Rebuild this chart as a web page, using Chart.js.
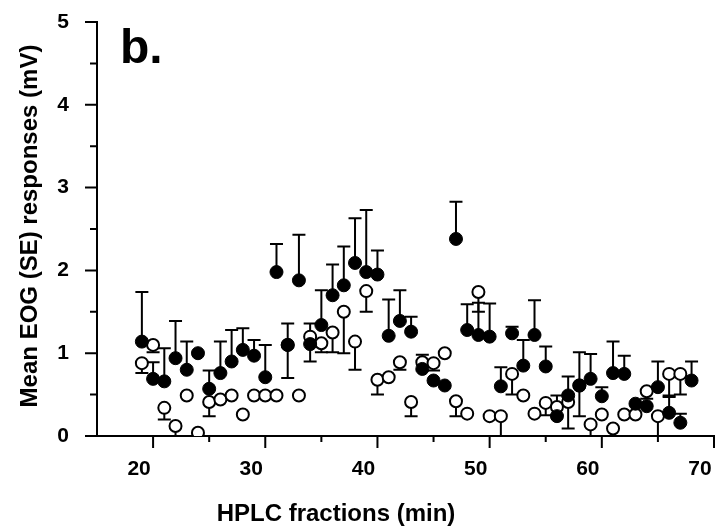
<!DOCTYPE html>
<html>
<head>
<meta charset="utf-8">
<script src="https://cdn.jsdelivr.net/npm/chart.js@4"></script>
<style>
  html, body { margin: 0; padding: 0; background: #fff; }
  #wrap { width: 722px; height: 527px; }
</style>
</head>
<body>
<div id="wrap"><canvas id="chart" width="722" height="527"></canvas></div>
<script>
// HPLC fraction (min) for each point
const fractions = [19, 20, 21, 22, 23, 24, 25, 26, 27, 28, 29, 30, 31, 32, 33, 34, 35, 36, 37, 38,
                   39, 40, 41, 42, 43, 44, 45, 46, 47, 48, 49, 50, 51, 52, 53, 54, 55, 56, 57, 58,
                   59, 60, 61, 62, 63, 64, 65, 66, 67, 68];

// filled circles, error bars drawn upward
const filledMean = [1.14, 0.69, 0.66, 0.94, 0.80, 1.00, 0.57, 0.76, 0.90, 1.04, 0.97, 0.71, 1.98, 1.10, 1.88, 1.11, 1.34, 1.70, 1.82, 2.09,
                    1.98, 1.95, 1.21, 1.39, 1.26, 0.81, 0.67, 0.61, 2.38, 1.28, 1.22, 1.20, 0.60, 1.24, 0.85, 1.22, 0.84, 0.24, 0.49, 0.61,
                    0.69, 0.48, 0.76, 0.75, 0.39, 0.36, 0.59, 0.28, 0.16, 0.67];
const filledSE = [0.60, 0.20, 0.40, 0.45, 0.34, 0, 0.22, 0.38, 0.38, 0.26, 0.19, 0.39, 0.34, 0.26, 0.55, 0.25, 0.42, 0.37, 0.47, 0.54,
                  0.75, 0.29, 0.44, 0.37, 0.18, 0.17, 0, 0, 0.45, 0.31, 0.39, 0.40, 0.23, 0.08, 0.31, 0.42, 0.24, 0.25, 0.23, 0.40,
                  0.30, 0.11, 0.38, 0.22, 0, 0, 0.31, 0.19, 0.11, 0.23];

// open circles, error bars drawn downward
const openMean = [0.88, 1.10, 0.34, 0.12, 0.49, 0.04, 0.41, 0.44, 0.49, 0.26, 0.49, 0.49, 0.49, 1.10, 0.49, 1.20, 1.12, 1.25, 1.50, 1.14,
                  1.75, 0.68, 0.71, 0.89, 0.41, 0.89, 0.88, 1.00, 0.42, 0.27, 1.74, 0.24, 0.24, 0.75, 0.49, 0.27, 0.40, 0.35, 0.41, 0.61,
                  0.14, 0.26, 0.09, 0.26, 0.26, 0.54, 0.24, 0.75, 0.75, null];
const openSE = [0.12, 0.09, 0.14, 0.12, 0, 0, 0.17, 0, 0, 0, 0, 0, 0, 0.40, 0, 0.30, 0.11, 0.24, 0.50, 0.34,
                0.25, 0.18, 0, 0.09, 0.17, 0.10, 0.09, 0, 0.18, 0, 0.24, 0, 0.24, 0.25, 0, 0, 0.15, 0.10, 0.32, 0.37,
                0.14, 0, 0, 0, 0, 0.09, 0.24, 0.26, 0.25, 0];

const xLabelTicks = [20, 30, 40, 50, 60, 70];
const yLabelTicks = [0, 1, 2, 3, 4, 5];

const FONT = '"Liberation Sans", Arial, sans-serif';

function points(means, errs) {
    const out = [];
    for (let i = 0; i < fractions.length; i++) {
        if (means[i] == null) continue;
        out.push({ x: fractions[i], y: means[i], err: errs[i] });
    }
    return out;
}

// Draw SE bars through the scales, one direction per series
const errorBars = {
    id: 'errorBars',
    beforeDatasetsDraw(chart) {
        const { ctx, scales: { x, y } } = chart;
        ctx.save();
        ctx.strokeStyle = '#000';
        ctx.lineWidth = 2;
        chart.data.datasets.forEach(ds => {
            ds.data.forEach(p => {
                if (!p.err) return;
                const px = x.getPixelForValue(p.x);
                const y0 = y.getPixelForValue(p.y);
                const y1 = y.getPixelForValue(p.y + ds.errSign * p.err);
                ctx.beginPath();
                ctx.moveTo(px, y0);
                ctx.lineTo(px, y1);
                ctx.moveTo(px - 6.5, y1);
                ctx.lineTo(px + 6.5, y1);
                ctx.stroke();
            });
        });
        ctx.restore();
    }
};

// tick marks (long majors, short minors) and the free text
const decorations = {
    id: 'decorations',
    afterDraw(chart) {
        const { ctx, scales: { x, y } } = chart;
        ctx.save();
        ctx.strokeStyle = '#000';
        ctx.lineWidth = 2;
        ctx.beginPath();
        x.ticks.forEach(t => {
            if (t.value <= x.min) return;
            const px = x.getPixelForValue(t.value);
            const len = xLabelTicks.includes(t.value) ? 12 : 6;
            ctx.moveTo(px, x.top);
            ctx.lineTo(px, x.top + len);
        });
        y.ticks.forEach(t => {
            const py = y.getPixelForValue(t.value);
            const len = yLabelTicks.includes(t.value) ? 12 : 7;
            ctx.moveTo(y.right, py);
            ctx.lineTo(y.right - len, py);
        });
        ctx.stroke();

        ctx.fillStyle = '#000';
        ctx.font = 'bold 24px ' + FONT;
        ctx.textAlign = 'center';
        ctx.textBaseline = 'alphabetic';
        ctx.fillText('HPLC fractions (min)', 336, 521);

        ctx.save();
        ctx.translate(37, 226);
        ctx.rotate(-Math.PI / 2);
        ctx.fillText('Mean EOG (SE) responses (mV)', 0, 0);
        ctx.restore();

        ctx.font = 'bold 48px ' + FONT;
        ctx.textAlign = 'left';
        ctx.fillText('b.', 120, 63);
        ctx.restore();
    }
};

new Chart(document.getElementById('chart'), {
    type: 'scatter',
    data: {
        datasets: [
            {
                label: 'filled',
                data: points(filledMean, filledSE),
                errSign: 1,
                pointStyle: 'circle',
                pointRadius: 6.5,
                backgroundColor: '#000',
                borderColor: '#000',
                borderWidth: 1
            },
            {
                label: 'open',
                data: points(openMean, openSE),
                errSign: -1,
                pointStyle: 'circle',
                pointRadius: 6,
                backgroundColor: '#fff',
                borderColor: '#000',
                borderWidth: 2
            }
        ]
    },
    options: {
        responsive: false,
        animation: false,
        layout: { padding: { top: 22, right: 2, left: 0, bottom: 0 } },
        plugins: { legend: { display: false }, tooltip: { enabled: false } },
        scales: {
            x: {
                type: 'linear',
                min: 15,
                max: 70,
                grid: { display: false },
                border: { display: true, color: '#000', width: 2 },
                ticks: {
                    stepSize: 5,
                    autoSkip: false,
                    maxRotation: 0,
                    padding: 13,
                    labelOffset: -14,
                    color: '#000',
                    font: { family: FONT, size: 21, weight: 'bold' },
                    callback: v => xLabelTicks.includes(v) ? String(v) : ''
                },
                afterFit(scale) {
                    scale.height = 91;
                    scale.paddingLeft = 0;
                    scale.paddingRight = 0;
                }
            },
            y: {
                type: 'linear',
                min: 0,
                max: 5,
                grid: { display: false },
                border: { display: true, color: '#000', width: 2 },
                ticks: {
                    stepSize: 0.5,
                    autoSkip: false,
                    padding: 20,
                    color: '#000',
                    font: { family: FONT, size: 21, weight: 'bold' },
                    callback: v => yLabelTicks.includes(v) ? String(v) : ''
                },
                afterFit(scale) {
                    scale.width = 97;
                    scale.paddingTop = 0;
                    scale.paddingBottom = 0;
                }
            }
        }
    },
    plugins: [errorBars, decorations]
});
</script>
</body>
</html>
